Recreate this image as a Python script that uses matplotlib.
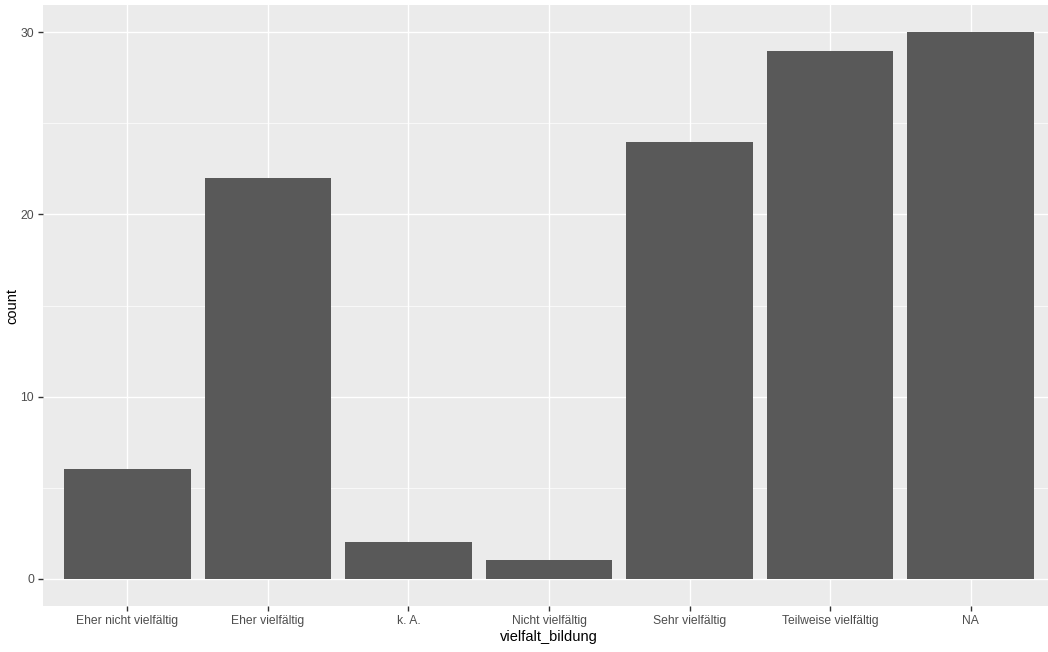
import matplotlib.pyplot as plt
import numpy as np

categories = ["Eher nicht vielfältig", "Eher vielfältig", "k. A.", "Nicht vielfältig",
              "Sehr vielfältig", "Teilweise vielfältig", "NA"]
counts = [6, 22, 2, 1, 24, 29, 30]
y_ticks = [0, 10, 20, 30]
y_minor = [5, 15, 25]

plt.rcParams['font.family'] = ['Liberation Sans', 'DejaVu Sans']

fig = plt.figure(figsize=(10.48, 6.52), dpi=100)
W, H = 1048, 652
# panel: left 43px, top 5px, bottom 606px, right runs past the image edge
ax = fig.add_axes([43 / W, (H - 606) / H, 1012 / W, 601 / H])
ax.set_facecolor("#EBEBEB")

x = np.arange(1, len(categories) + 1)
ax.set_xlim(0.4, len(categories) + 0.6)
ax.set_ylim(-1.5, 31.5)

# grid
for v in y_minor:
    ax.axhline(v, color="white", lw=0.5, zorder=0)
for v in y_ticks:
    ax.axhline(v, color="white", lw=1.0, zorder=0)
for v in x:
    ax.axvline(v, color="white", lw=1.0, zorder=0)

ax.bar(x, counts, width=0.9, color="#595959", zorder=2)

ax.set_xticks(x)
ax.set_xticklabels(categories)
ax.set_yticks(y_ticks)
ax.tick_params(axis="both", colors="#333333", labelcolor="#4D4D4D",
               labelsize=8.7, length=3.5, width=1)
ax.tick_params(axis="x", pad=3)
ax.tick_params(axis="y", pad=3)

for s in ax.spines.values():
    s.set_visible(False)

ax.set_xlabel("vielfalt_bildung", fontsize=10.5, color="black", labelpad=2)
ax.set_ylabel("count", fontsize=10.5, color="black", labelpad=0.5)

fig.savefig("out.png", dpi=100)
